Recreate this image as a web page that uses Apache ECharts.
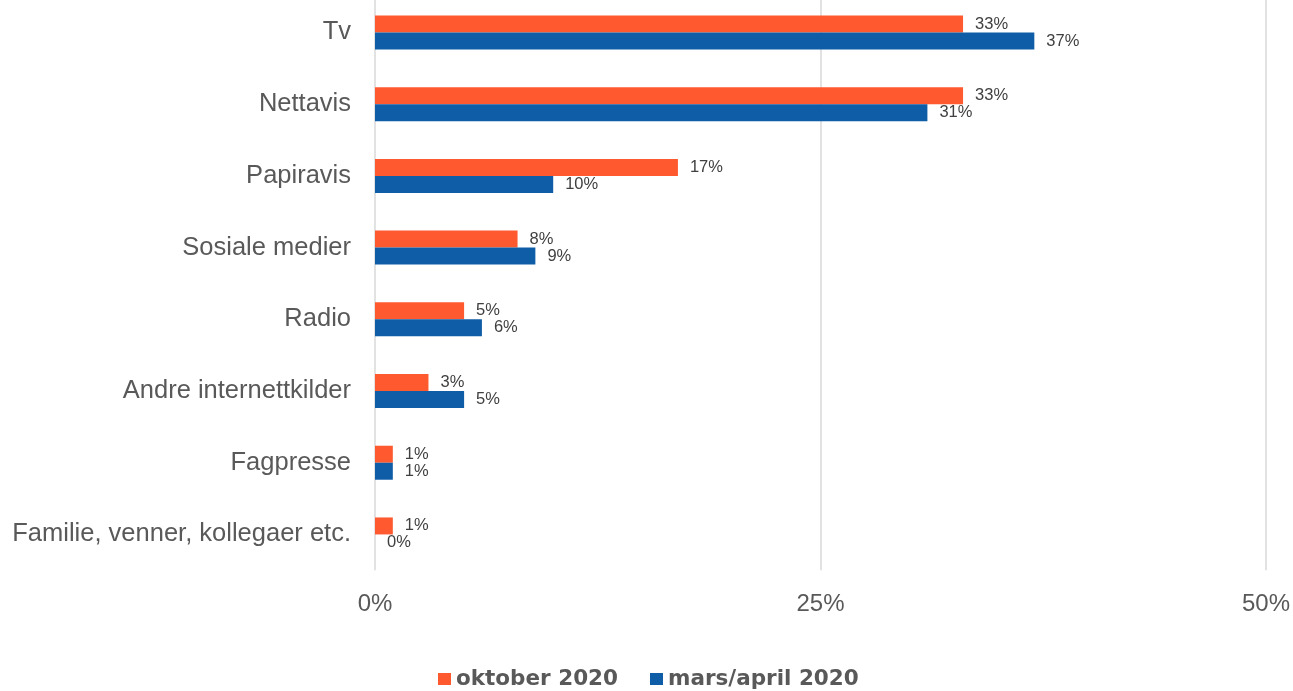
<!DOCTYPE html>
<html>
<head>
<meta charset="utf-8">
<script src="https://cdn.jsdelivr.net/npm/echarts@6/dist/echarts.min.js"></script>
<style>
  html, body { margin: 0; padding: 0; background: #ffffff; overflow: hidden; }
  /* the canvas starts a little above the page so the first band can sit flush with the top edge */
  #chart { position: absolute; left: 0; top: -10px; width: 1293px; height: 701px; }
</style>
</head>
<body>
<div id="chart"></div>
<script>
// Kilder, ordnet fra øverst til nederst
const categories = ['Tv', 'Nettavis', 'Papiravis', 'Sosiale medier', 'Radio', 'Andre internettkilder', 'Fagpresse', 'Familie, venner, kollegaer etc.'];
const seriesNames = ['oktober 2020', 'mars/april 2020'];
const oktober2020 = [33, 33, 17, 8, 5, 3, 1, 1];
const marsApril2020 = [37, 31, 10, 9, 6, 5, 1, 0];
const xTicks = [0, 25, 50];

const chart = echarts.init(document.getElementById('chart'));

const valueLabel = {
  show: true,
  position: 'right',
  distance: 12,
  formatter: p => p.value + '%',
  fontFamily: 'Liberation Sans, Arial, sans-serif',
  fontSize: 16.5,
  color: '#404040'
};

chart.setOption({
  animation: false,
  grid: { left: 375, right: 27, top: 6.6, height: 573.7 },
  legend: {
    data: seriesNames,
    left: 433,
    top: 673,
    itemWidth: 13,
    itemHeight: 12,
    itemGap: 32,
    icon: 'rect',
    textStyle: {
      fontFamily: 'DejaVu Sans, sans-serif',
      fontWeight: 'bold',
      fontSize: 21.5,
      color: '#595959'
    }
  },
  xAxis: {
    type: 'value',
    min: xTicks[0],
    max: xTicks[xTicks.length - 1],
    interval: 25,
    axisLine: { show: false },
    axisTick: { show: false },
    splitLine: { show: true, lineStyle: { color: '#d9d9d9', width: 1.5 } },
    axisLabel: {
      formatter: v => v + '%',
      margin: 22,
      fontFamily: 'Liberation Sans, Arial, sans-serif',
      fontSize: 24,
      color: '#595959'
    }
  },
  yAxis: {
    type: 'category',
    data: categories,
    inverse: true,
    axisLine: { show: false },
    axisTick: { show: false },
    splitLine: { show: false },
    axisLabel: {
      margin: 24,
      fontFamily: 'Liberation Sans, Arial, sans-serif',
      fontSize: 25.5,
      color: '#595959'
    }
  },
  series: [
    {
      name: seriesNames[0],
      type: 'bar',
      data: oktober2020,
      barWidth: 17,
      barGap: '0%',
      itemStyle: { color: '#ff5a2f' },
      label: valueLabel
    },
    {
      name: seriesNames[1],
      type: 'bar',
      data: marsApril2020,
      barWidth: 17,
      barGap: '0%',
      itemStyle: { color: '#0f5da6' },
      label: valueLabel
    }
  ]
});
</script>
</body>
</html>
